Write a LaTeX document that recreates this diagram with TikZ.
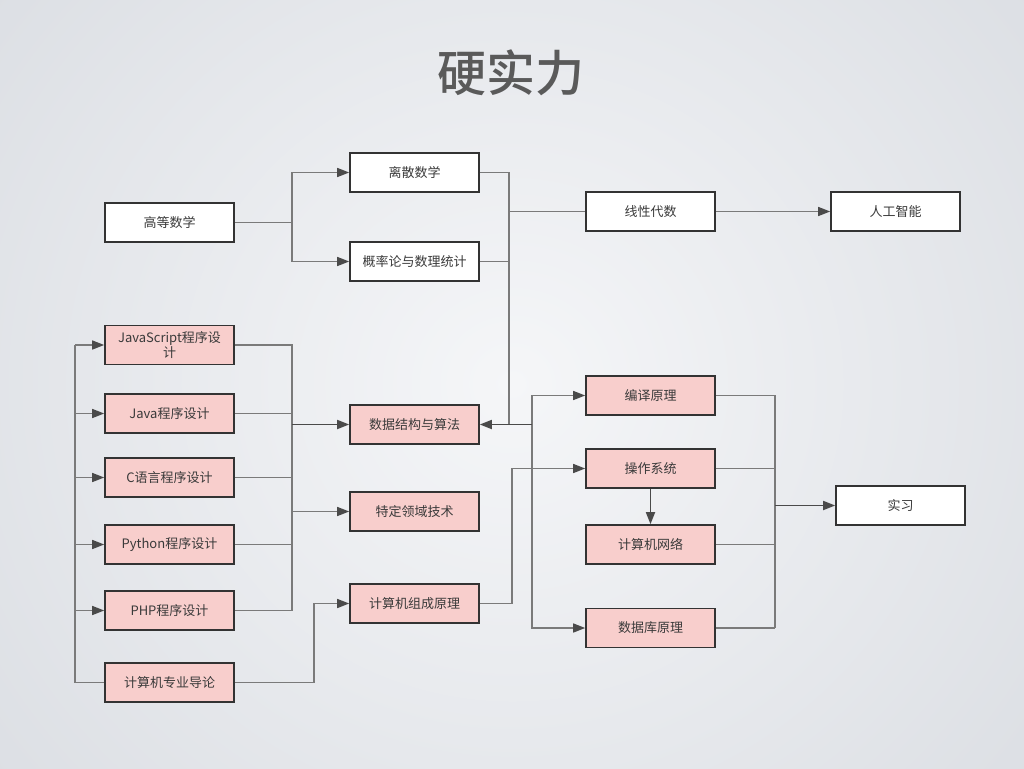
\documentclass[tikz,border=0pt]{standalone}
\usepackage{fontspec}
\setmainfont{Noto Sans CJK SC}
\newfontfamily\titlefont{Noto Sans CJK SC}[UprightFont=* Medium]
\usetikzlibrary{arrows.meta}
\definecolor{pinkc}{HTML}{F8CECC}
\definecolor{boxline}{HTML}{333333}
\definecolor{textc}{HTML}{3A3A3A}
\definecolor{linec}{HTML}{7A7A7A}
\definecolor{darkc}{HTML}{4A4A4A}
\definecolor{titlec}{HTML}{5A5A5A}
\definecolor{bgin}{HTML}{F5F6F8}
\definecolor{bgout}{HTML}{DCDFE4}
\begin{document}
\begin{tikzpicture}[x=1pt,y=-1pt,
  box/.style={draw=boxline, line width=1.6pt, minimum width=129pt, minimum height=39pt,
    inner sep=1pt, font=\fontsize{13}{15}\selectfont, text=textc, align=center, fill=white},
  pbox/.style={box, fill=pinkc},
  conn/.style={draw=linec, line width=1.4pt},
  arr/.style={conn, -{Triangle[length=12pt,width=9pt,color=darkc]}},
  darr/.style={arr, draw=darkc, line width=1.7pt}]
\useasboundingbox (0,0) rectangle (1024,768);
\shade[inner color=bgin, outer color=bgout] (-150,-250) rectangle (1174,1018);

\node[font=\titlefont\fontsize{49}{55}\selectfont, text=titlec] (title) at (511,73) {硬实力};

% columns
\coordinate (c75) at (75,0);
\coordinate (c292) at (292,0);
\coordinate (c314) at (314,0);
\coordinate (c509) at (509,0);
\coordinate (c512) at (512,0);
\coordinate (c532) at (532,0);
\coordinate (c775) at (775,0);

% nodes
\node[box] (gd) at (169.5,222.5) {高等数学};
\node[box] (ls) at (414.5,172.5) {离散数学};
\node[box] (gl) at (414.5,261.5) {概率论与数理统计};
\node[box] (xx) at (650.5,211.5) {线性代数};
\node[box] (rg) at (895.5,211.5) {人工智能};

\node[pbox] (js) at (169.5,345) {JavaScript程序设\\计};
\node[pbox] (java) at (169.5,413.5) {Java程序设计};
\node[pbox] (cc) at (169.5,477.5) {C语言程序设计};
\node[pbox] (py) at (169.5,544.5) {Python程序设计};
\node[pbox] (php) at (169.5,610.5) {PHP程序设计};
\node[pbox] (dl) at (169.5,682.5) {计算机专业导论};

\node[pbox] (sj) at (414.5,424.5) {数据结构与算法};
\node[pbox] (td) at (414.5,511.5) {特定领域技术};
\node[pbox] (zc) at (414.5,603.5) {计算机组成原理};

\node[pbox] (by) at (650.5,395.5) {编译原理};
\node[pbox] (cz) at (650.5,468.5) {操作系统};
\node[pbox] (wl) at (650.5,544.5) {计算机网络};
\node[pbox] (db) at (650.5,628) {数据库原理};

\node[box] (sx) at (900.5,505.5) {实习};

% math branch
\draw[arr] (gd.east) -- (gd.east -| c292) |- (ls.west);
\draw[arr] (gd.east -| c292) |- (gl.west);
\draw[conn] (ls.east) -| (sj.east -| c509);
\draw[conn] (gl.east) -- (gl.east -| c509);
\draw[conn] (xx.west) -- (xx.west -| c509);
\draw[arr] (xx.east) -- (rg.west);

% data structures hub
\draw[arr] (sj.east -| c532) |- (by.west);
\draw[arr] (sj.east -| c532) |- (db.west);
\draw[darr] (sj.east -| c532) -- (sj.east);

% programming group, left trunk
\draw[conn] (dl.west) -| (js.west -| c75);
\draw[arr] (js.west -| c75) -- (js.west);
\draw[arr] (java.west -| c75) -- (java.west);
\draw[arr] (cc.west -| c75) -- (cc.west);
\draw[arr] (py.west -| c75) -- (py.west);
\draw[arr] (php.west -| c75) -- (php.west);

% programming group, right trunk
\draw[conn] (js.east) -| (php.east -| c292);
\draw[conn] (java.east) -- (java.east -| c292);
\draw[conn] (cc.east) -- (cc.east -| c292);
\draw[conn] (py.east) -- (py.east -| c292);
\draw[conn] (php.east) -- (php.east -| c292);
\draw[darr] (sj.west -| c292) -- (sj.west);
\draw[arr] (td.west -| c292) -- (td.west);

% intro -> organisation -> OS
\draw[arr] (dl.east) -- (dl.east -| c314) |- (zc.west);
\draw[arr] (zc.east) -- (zc.east -| c512) |- (cz.west);
\draw[darr] (cz.south) -- (wl.north);

% right group -> internship
\draw[conn] (by.east) -| (db.east -| c775);
\draw[conn] (cz.east) -- (cz.east -| c775);
\draw[conn] (wl.east) -- (wl.east -| c775);
\draw[conn] (db.east) -- (db.east -| c775);
\draw[darr] (sx.west -| c775) -- (sx.west);
\end{tikzpicture}
\end{document}
